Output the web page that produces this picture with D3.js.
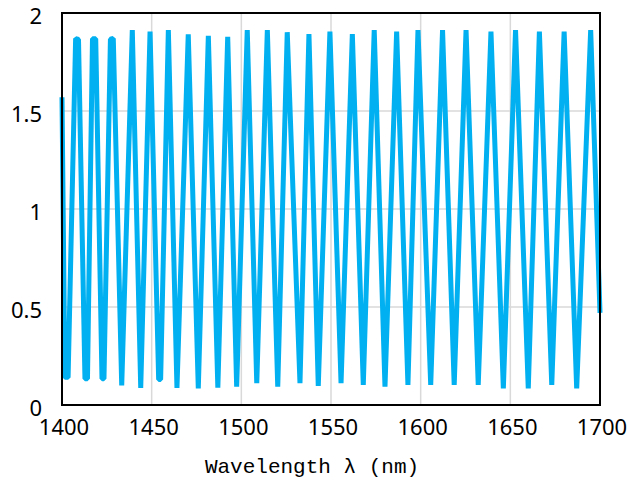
<!DOCTYPE html>
<html>
<head>
<meta charset="utf-8">
<script src="https://cdn.jsdelivr.net/npm/d3@7"></script>
<style>
  body { margin: 0; background: #fff; }
</style>
</head>
<body>
<div id="chart"></div>
<script>
// wavelength (nm) of each vertex
var wavelength = [1400, 1401.6, 1403.4, 1407.6, 1409.2, 1412.8, 1414.2, 1417.0, 1418.8,
  1422.3, 1423.4, 1427.0, 1428.6, 1433.3, 1439.2, 1443.9, 1449.1, 1453.9, 1455.0,
  1459.3, 1464.1, 1470.4, 1476.0, 1481.6, 1486.9, 1492.4, 1497.4, 1503.3, 1508.6,
  1514.5, 1520.3, 1525.6, 1532.7, 1537.7, 1542.9, 1549.4, 1555.6, 1561.9, 1568.0,
  1574.1, 1580.1, 1586.6, 1592.9, 1598.5, 1605.6, 1612.2, 1618.7, 1625.3, 1632.1,
  1639.2, 1646.1, 1652.9, 1660.0, 1666.2, 1673.1, 1680.0, 1687.0, 1694.8, 1700];

// signal value at each vertex
var signal = [1.57, 0.141, 0.141, 1.869, 1.865, 0.134, 0.134, 1.869, 1.869,
  0.134, 0.134, 1.866, 1.870, 0.100, 1.913, 0.087, 1.905, 0.130, 0.130,
  1.913, 0.087, 1.891, 0.085, 1.883, 0.088, 1.879, 0.093, 1.913, 0.111,
  1.913, 0.093, 1.902, 0.111, 1.893, 0.097, 1.905, 0.111, 1.893, 0.102,
  1.913, 0.093, 1.905, 0.102, 1.913, 0.102, 1.913, 0.102, 1.913, 0.102,
  1.905, 0.085, 1.913, 0.085, 1.905, 0.102, 1.905, 0.085, 1.913, 0.47];

var xTicks = [1400, 1450, 1500, 1550, 1600, 1650, 1700];
var yTicks = [0, 0.5, 1, 1.5, 2];

var w = 628;
var h = 486;
var plotLeft = 62, plotRight = 600, plotTop = 13, plotBottom = 405;

var svg = d3.select("#chart")
  .append("svg")
  .attr("width", w)
  .attr("height", h);

var x = d3.scaleLinear().domain([1400, 1700]).range([plotLeft, plotRight]);
var y = d3.scaleLinear().domain([0, 2]).range([plotBottom, plotTop]);

// grid
svg.append("g")
  .selectAll("line")
  .data(xTicks.slice(1, -1))
  .enter()
  .append("line")
  .attr("x1", function(d) { return x(d); })
  .attr("x2", function(d) { return x(d); })
  .attr("y1", plotTop)
  .attr("y2", plotBottom)
  .attr("stroke", "#d9d9d9")
  .attr("stroke-width", 1.5);

svg.append("g")
  .selectAll("line")
  .data(yTicks.slice(1, -1))
  .enter()
  .append("line")
  .attr("x1", plotLeft)
  .attr("x2", plotRight)
  .attr("y1", function(d) { return y(d); })
  .attr("y2", function(d) { return y(d); })
  .attr("stroke", "#d9d9d9")
  .attr("stroke-width", 1.5);

// signal
var points = wavelength.map(function(d, i) { return [d, signal[i]]; });
var line = d3.line()
  .x(function(d) { return x(d[0]); })
  .y(function(d) { return y(d[1]); });

svg.append("path")
  .datum(points)
  .attr("d", line)
  .attr("fill", "none")
  .attr("stroke", "#00b0f0")
  .attr("stroke-width", 5)
  .attr("stroke-linejoin", "bevel");

// frame
svg.append("rect")
  .attr("x", plotLeft)
  .attr("y", plotTop)
  .attr("width", plotRight - plotLeft)
  .attr("height", plotBottom - plotTop)
  .attr("fill", "none")
  .attr("stroke", "#000")
  .attr("stroke-width", 2);

// axes (labels only)
var xAxis = svg.append("g")
  .attr("transform", "translate(1.5," + plotBottom + ")")
  .call(d3.axisBottom(x).tickValues(xTicks).tickSize(0).tickPadding(14).tickFormat(d3.format("d")));

var yAxis = svg.append("g")
  .attr("transform", "translate(" + (plotLeft - 20) + ",3)")
  .call(d3.axisLeft(y).tickValues(yTicks).tickSize(0).tickPadding(0).tickFormat(function(d) { return String(d); }));

[xAxis, yAxis].forEach(function(a) {
  a.select(".domain").remove();
  a.selectAll("text")
    .attr("fill", "#000")
    .style("font-family", "'Noto Sans', sans-serif")
    .style("font-size", "22px");
});

svg.append("text")
  .attr("x", 312)
  .attr("y", 473)
  .attr("text-anchor", "middle")
  .style("font-family", "'Liberation Mono', monospace")
  .style("font-size", "21px")
  .text("Wavelength λ (nm)");
</script>
</body>
</html>
